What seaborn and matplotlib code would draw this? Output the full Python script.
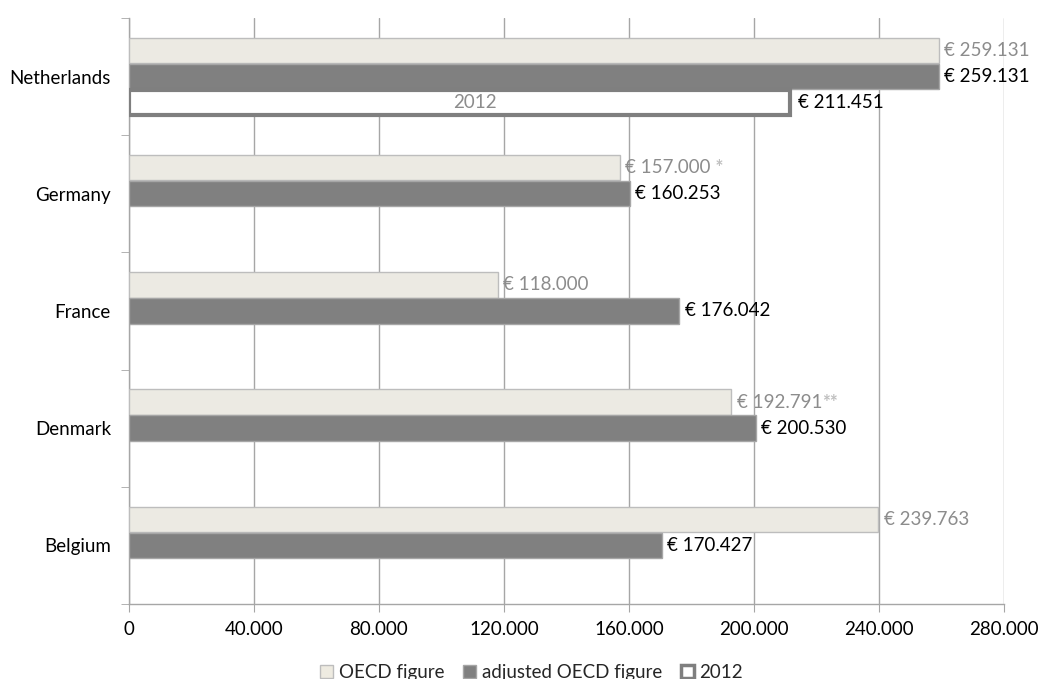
import matplotlib
matplotlib.use("Agg")
import numpy as np
import pandas as pd
import matplotlib.pyplot as plt
import seaborn as sns
from matplotlib.ticker import FuncFormatter, FixedLocator
from matplotlib.patches import Patch

# chart data
countries = ["Netherlands", "Germany", "France", "Denmark", "Belgium"]
oecd = [259131, 157000, 118000, 192791, 239763]
adjusted = [259131, 160253, 176042, 200530, 170427]
year_2012 = [211451, np.nan, np.nan, np.nan, np.nan]
series = ["OECD figure", "adjusted OECD figure", "2012"]
oecd_notes = ["", " *", "", "**", ""]

df = pd.DataFrame({
    "country": countries * 3,
    "value": oecd + adjusted + year_2012,
    "series": [s for s in series for _ in countries],
})

sns.set_style("white")
plt.rcParams["font.family"] = ["Lato", "DejaVu Sans"]
FS = 13.5

fig = plt.figure(figsize=(10.42, 6.79), dpi=100)
ax = fig.add_axes([0.1238, 0.1105, 0.8397, 0.863])

fills = ["#eeebe1", "#808080", "#ffffff"]
edges = ["#bdbdbd", "#a6a6a6", "#7f7f7f"]
sns.barplot(data=df, x="value", y="country", hue="series", hue_order=series,
            order=countries, palette=fills, orient="h", width=0.67, gap=0.03,
            legend=False, ax=ax, zorder=3)

for i, cont in enumerate(ax.containers):
    for bar in cont:
        bar.set_edgecolor(edges[i])
        bar.set_linewidth(3.0 if i == 2 else 1.0)

label_colors = ["#8c8c8c", "#000000", "#000000"]
vals = [oecd, adjusted, year_2012]
for i, cont in enumerate(ax.containers):
    for j, bar in enumerate(cont):
        v = vals[i][j]
        if np.isnan(v):
            continue
        y = bar.get_y() + bar.get_height() / 2
        txt = ax.annotate("€ " + f"{int(v):,}".replace(",", "."), xy=(v, y),
                          xytext=(4 if i != 2 else 6, 0), textcoords="offset points",
                          va="center", ha="left", fontsize=FS, color=label_colors[i])
        if i == 0 and oecd_notes[j]:
            ax.annotate(oecd_notes[j], xy=(1, 0.5), xycoords=txt, xytext=(0, 0),
                        textcoords="offset points", va="center", ha="left",
                        fontsize=FS, color="#bfbfbf", fontweight="bold")

# text inside the 2012 bar
b = ax.containers[2][0]
ax.text(b.get_width() / 2 + 5000, b.get_y() + b.get_height() / 2, "2012", ha="center",
        va="center", fontsize=FS, color="#8c8c8c", zorder=4)

ax.set_xlim(0, 280000)
ax.set_xticks(np.arange(0, 280001, 40000))
ax.xaxis.set_major_formatter(FuncFormatter(lambda x, p: "0" if x == 0 else f"{int(x):,}".replace(",", ".")))
ax.grid(axis="x", color="#a6a6a6", linewidth=1.0, zorder=0)
ax.grid(axis="y", visible=False)
ax.set_axisbelow(True)

ax.set_xlabel("")
ax.set_ylabel("")
for s in ["top", "right"]:
    ax.spines[s].set_visible(False)
for s in ["left", "bottom"]:
    ax.spines[s].set_color("#a6a6a6")
    ax.spines[s].set_linewidth(1.0)

ax.tick_params(axis="x", length=6, color="#a6a6a6", labelsize=FS, labelcolor="#000000", pad=6, bottom=True)
ax.tick_params(axis="y", which="major", length=0, labelsize=FS, labelcolor="#000000", pad=13)
ax.yaxis.set_minor_locator(FixedLocator(np.arange(-0.5, 5, 1)))
ax.tick_params(axis="y", which="minor", length=6, color="#a6a6a6", left=True)

handles = [Patch(facecolor=fills[k], edgecolor=edges[k], linewidth=1.0 if k < 2 else 2.5) for k in range(3)]
fig.legend(handles, series, loc="center", bbox_to_anchor=(0.51, 0.01), ncol=3, frameon=False,
           fontsize=FS, handlelength=0.7, handleheight=0.7, handletextpad=0.3, columnspacing=1.0)

fig.savefig("out.png", dpi=100)
